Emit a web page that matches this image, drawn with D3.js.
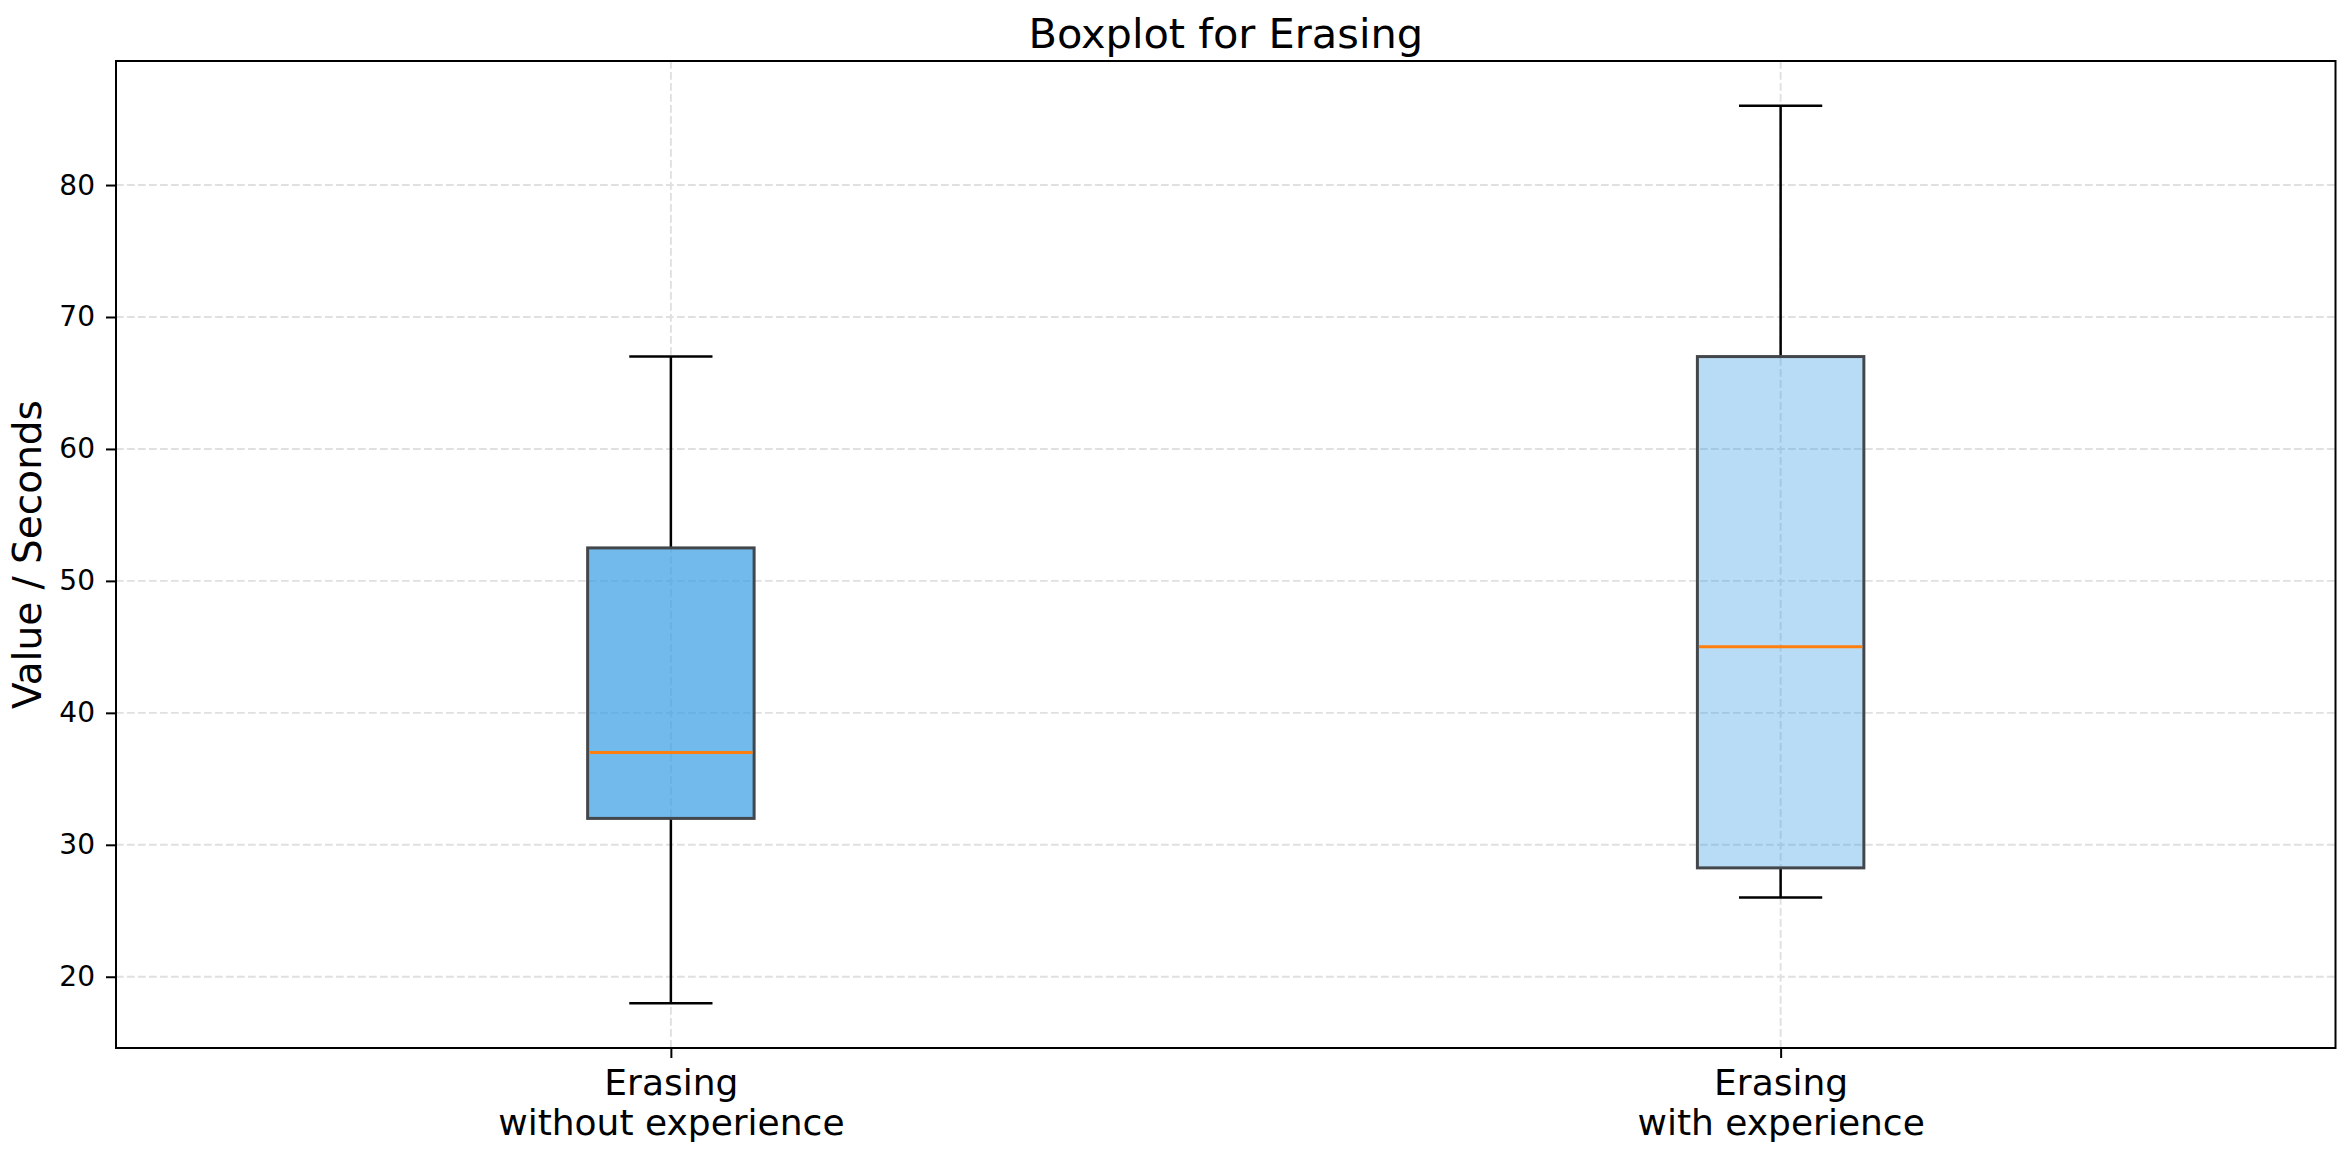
<!DOCTYPE html>
<html>
<head>
<meta charset="utf-8">
<script src="https://cdn.jsdelivr.net/npm/d3@7"></script>
<style>
  html, body { margin: 0; padding: 0; background: #ffffff; }
  svg { display: block; font-family: "DejaVu Sans", sans-serif; }
</style>
</head>
<body>
<svg id="chart" width="2351" height="1151"></svg>
<script>
// ---- data ----
const categories = [["Erasing", "without experience"], ["Erasing", "with experience"]];
const whiskerLow = [18, 26];
const q1 = [32, 28.25];
const medians = [37, 45];
const q3 = [52.5, 67];
const whiskerHigh = [67, 86];
const yTicks = [20, 30, 40, 50, 60, 70, 80];
const boxFill = ["#359ce2", "#359ce2"];
const boxOpacity = [0.7, 0.35];
const titleText = "Boxplot for Erasing";
const yLabelText = "Value / Seconds";

// ---- layout ----
const W = 2351, H = 1151;
const margin = { top: 61, right: 15.5, bottom: 103, left: 116 };
const iw = W - margin.left - margin.right;
const ih = H - margin.top - margin.bottom;

const svg = d3.select("#chart");
svg.append("rect").attr("width", W).attr("height", H).attr("fill", "#fff");
const g = svg.append("g").attr("transform", `translate(${margin.left},${margin.top})`);

// y domain with 5% margins like matplotlib
const dmin = d3.min(whiskerLow), dmax = d3.max(whiskerHigh);
const pad = (dmax - dmin) * 0.05;
const y = d3.scaleLinear().domain([dmin - pad, dmax + pad]).range([ih, 0]);
const positions = categories.map((c, i) => i + 1);
const x = d3.scaleLinear().domain([0.5, categories.length + 0.5]).range([0, iw]);
const boxW = x(0.15) - x(0);
const capW = boxW / 2;

// grid
const grid = g.append("g").attr("class", "grid");
grid.selectAll("line.h").data(yTicks).join("line")
  .attr("x1", 0).attr("x2", iw)
  .attr("y1", d => y(d)).attr("y2", d => y(d))
  .attr("stroke", "#e0e0e0").attr("stroke-width", 1.9).attr("stroke-dasharray", "7.7,3.3");
grid.selectAll("line.v").data(positions).join("line")
  .attr("y1", 0).attr("y2", ih)
  .attr("x1", d => x(d)).attr("x2", d => x(d))
  .attr("stroke", "#e0e0e0").attr("stroke-width", 1.9).attr("stroke-dasharray", "7.7,3.3");

// boxes
const boxes = g.append("g").selectAll("g.box").data(positions).join("g").attr("class", "box");
// whiskers
boxes.append("line")
  .attr("x1", (d) => x(d)).attr("x2", (d) => x(d))
  .attr("y1", (d, i) => y(q3[i])).attr("y2", (d, i) => y(whiskerHigh[i]))
  .attr("stroke", "#000").attr("stroke-width", 2.5);
boxes.append("line")
  .attr("x1", (d) => x(d)).attr("x2", (d) => x(d))
  .attr("y1", (d, i) => y(q1[i])).attr("y2", (d, i) => y(whiskerLow[i]))
  .attr("stroke", "#000").attr("stroke-width", 2.5);
// caps
boxes.append("line")
  .attr("x1", (d) => x(d) - capW / 2).attr("x2", (d) => x(d) + capW / 2)
  .attr("y1", (d, i) => y(whiskerHigh[i])).attr("y2", (d, i) => y(whiskerHigh[i]))
  .attr("stroke", "#000").attr("stroke-width", 2.5);
boxes.append("line")
  .attr("x1", (d) => x(d) - capW / 2).attr("x2", (d) => x(d) + capW / 2)
  .attr("y1", (d, i) => y(whiskerLow[i])).attr("y2", (d, i) => y(whiskerLow[i]))
  .attr("stroke", "#000").attr("stroke-width", 2.5);
// box rect
boxes.append("rect")
  .attr("x", d => x(d) - boxW / 2).attr("width", boxW)
  .attr("y", (d, i) => y(q3[i])).attr("height", (d, i) => y(q1[i]) - y(q3[i]))
  .attr("fill", (d, i) => boxFill[i]).attr("fill-opacity", (d, i) => boxOpacity[i])
  .attr("stroke", "#43474c").attr("stroke-width", 3);
// medians
boxes.append("line")
  .attr("x1", d => x(d) - boxW / 2 + 1.5).attr("x2", d => x(d) + boxW / 2 - 1.5)
  .attr("y1", (d, i) => y(medians[i])).attr("y2", (d, i) => y(medians[i]))
  .attr("stroke", "#ff7f0e").attr("stroke-width", 3);

// axes
const yAxis = g.append("g")
  .call(d3.axisLeft(y).tickValues(yTicks).tickSize(10).tickPadding(11).tickFormat(d3.format("d")));
yAxis.select(".domain").remove();
yAxis.selectAll(".tick line").attr("stroke", "#000").attr("stroke-width", 2);
yAxis.selectAll(".tick text").attr("font-size", 28).attr("fill", "#000")
  .attr("font-family", "DejaVu Sans");

const xAxis = g.append("g").attr("transform", `translate(0,${ih})`)
  .call(d3.axisBottom(x).tickValues(positions).tickSize(10).tickFormat(""));
xAxis.select(".domain").remove();
xAxis.selectAll(".tick line").attr("stroke", "#000").attr("stroke-width", 2);
xAxis.selectAll(".tick").each(function(d, i) {
  const t = d3.select(this).append("text")
    .attr("text-anchor", "middle").attr("font-size", 36).attr("fill", "#000")
    .attr("font-family", "DejaVu Sans");
  categories[i].forEach((line, k) => {
    t.append("tspan").attr("x", 0).attr("y", 47 + k * 40).text(line);
  });
});

// frame
g.append("rect").attr("x", 0).attr("y", 0).attr("width", iw).attr("height", ih)
  .attr("fill", "none").attr("stroke", "#000").attr("stroke-width", 2);

// title
svg.append("text").attr("x", margin.left + iw / 2).attr("y", 48)
  .attr("text-anchor", "middle").attr("font-size", 41.5).attr("fill", "#000")
  .text(titleText);

// y label
svg.append("text")
  .attr("transform", `translate(41,${margin.top + ih / 2}) rotate(-90)`)
  .attr("text-anchor", "middle").attr("font-size", 39).attr("fill", "#000")
  .text(yLabelText);
</script>
</body>
</html>
